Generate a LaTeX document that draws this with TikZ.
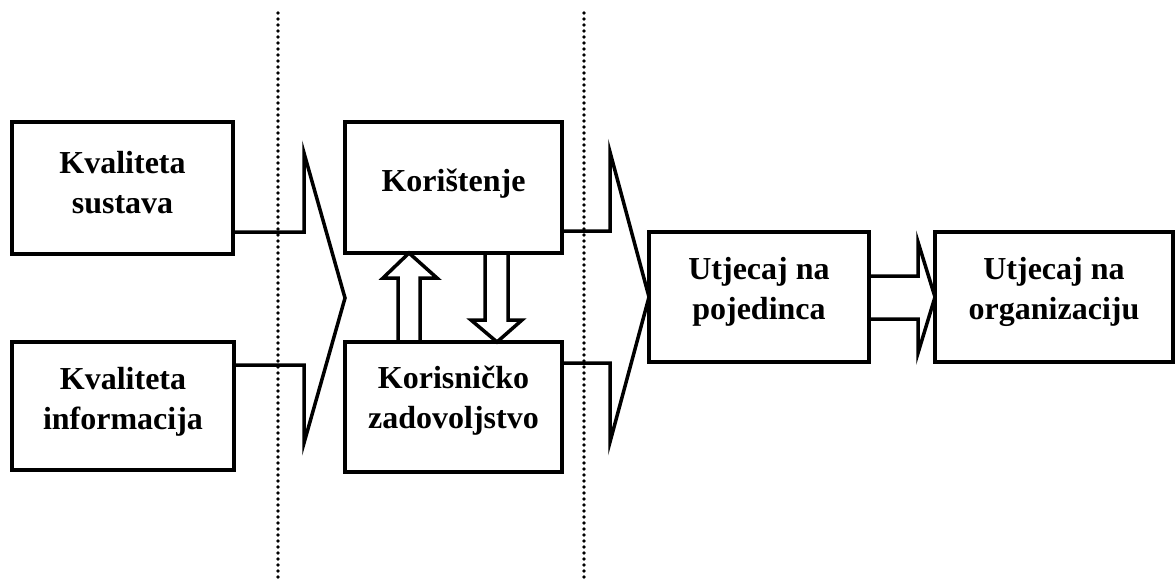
\documentclass[tikz,border=0pt]{standalone}
\usepackage{fontspec}
\setmainfont{Liberation Serif}
\begin{document}
\begin{tikzpicture}[x=1pt,y=-1pt,
  box/.style={draw, line width=4pt, outer sep=0pt, inner sep=0pt},
  lbl/.style={align=center, inner sep=0pt, font=\fontsize{32}{40}\selectfont\bfseries},
  bigarr/.style={draw, line width=3.5pt, line join=miter},
  dblarr/.style={draw, line width=3.5pt, line join=miter},
  sep/.style={line width=3.6pt, dash pattern=on 0pt off 6pt, line cap=round}]
\useasboundingbox (0,0) rectangle (1175,582);
% boxes
\node[box, minimum width=221pt, minimum height=132pt] (ks) at (122.5,188) {};
\node[box, minimum width=222pt, minimum height=128pt] (ki) at (123,406) {};
\node[box, minimum width=217pt, minimum height=131pt] (kor) at (453.5,187.5) {};
\node[box, minimum width=217pt, minimum height=130pt] (kz) at (453.5,407) {};
\node[box, minimum width=220pt, minimum height=130pt] (up) at (759,297) {};
\node[box, minimum width=238pt, minimum height=130pt] (uo) at (1054,297) {};
% labels
\node[lbl] (ks-t) at ([yshift=5pt]ks.center) {Kvaliteta\\sustava};
\node[lbl] (ki-t) at ([yshift=4pt]ki.center) {Kvaliteta\\informacija};
\node[lbl] (kor-t) at ([yshift=4pt]kor.center) {Korištenje};
\node[lbl] (kz-t) at ([yshift=6pt]kz.center) {Korisničko\\zadovoljstvo};
\node[lbl] (up-t) at ([yshift=5pt]up.center) {Utjecaj na\\pojedinca};
\node[lbl] (uo-t) at ([yshift=5pt]uo.center) {Utjecaj na\\organizaciju};
% dotted separators
\coordinate (s1t) at (278,13);
\coordinate (s1b) at (278,582);
\coordinate (s2t) at (584,13);
\coordinate (s2b) at (584,582);
\draw[sep] (s1t) -- (s1b);
\draw[sep] (s2t) -- (s2b);
% big arrow 1
\draw[bigarr] (ks.east |- 0,232) -- (304,232) -- (304,153) -- (kor.west |- 0,298)
  -- (304,443) -- (304,365) -- (ki.east |- 0,365);
% big arrow 2
\draw[bigarr] (kor.east |- 0,231) -- (610,231) -- (610,152) -- (up.west |- 0,297)
  -- (610,442) -- (610,363) -- (kz.east |- 0,363);
% arrow 3
\draw[bigarr] (up.east |- 0,276) -- (918,276) -- (918,242) -- (uo.west |- 0,297)
  -- (918,353) -- (918,319) -- (up.east |- 0,319);
% up arrow (kz -> kor)
\draw[dblarr] (kz.north -| 398,0) -- (398,278) -- (383,278) -- (kor.south -| 409,0)
  -- (437,278) -- (420,278) -- (kz.north -| 420,0);
% down arrow (kor -> kz)
\draw[dblarr] (kor.south -| 485,0) -- (485,320) -- (471,320) -- (kz.north -| 497,0)
  -- (522,320) -- (508,320) -- (kor.south -| 508,0);
\end{tikzpicture}
\end{document}
